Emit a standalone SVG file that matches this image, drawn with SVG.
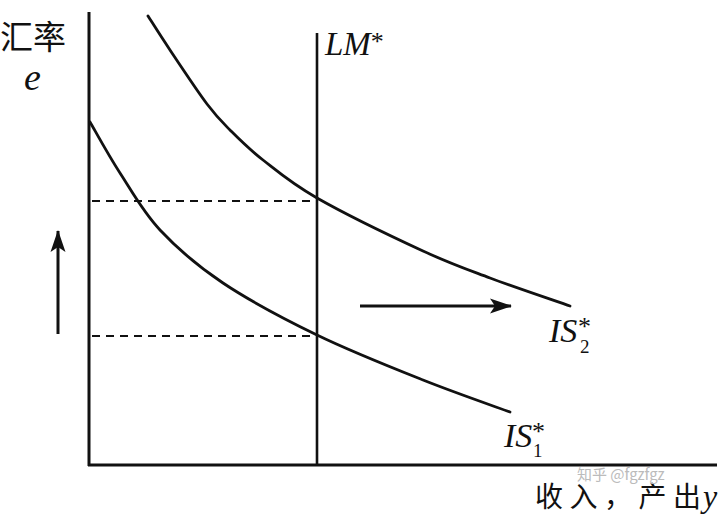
<svg xmlns="http://www.w3.org/2000/svg" width="726" height="519" viewBox="0 0 726 519">
<defs>
<marker id="ah" markerUnits="userSpaceOnUse" markerWidth="24" markerHeight="18" refX="21" refY="9" orient="auto">
<path d="M0,1.5 L22,9 L0,16.5 L5,9 z" fill="#111"/>
</marker>
<style>
.ax{stroke:#111;stroke-width:3;fill:none}
.cv{stroke:#111;stroke-width:2.8;fill:none;stroke-linecap:round}
.ds{stroke:#111;stroke-width:1.8;stroke-dasharray:8 6;fill:none}
.ar{stroke:#111;stroke-width:3;fill:none;marker-end:url(#ah)}
.lt{font-family:"Liberation Serif",serif;font-style:italic;fill:#111}
.up{font-style:normal}
.cj{font-family:"Noto Sans CJK SC",sans-serif;fill:#111}
.wm{font-family:"Noto Sans CJK SC","Liberation Sans",sans-serif;fill:#bbb}
</style>
</defs>
<rect width="726" height="519" fill="#fff"/>
<g id="connectors">
<line id="yaxis" class="ax" x1="89" y1="12" x2="89" y2="466"/>
<line id="xaxis" class="ax" x1="88" y1="465" x2="717" y2="465"/>
<line class="ds" x1="92" y1="201" x2="317" y2="201"/>
<line class="ds" x1="92" y1="336" x2="317" y2="336"/>
<line class="ar" x1="58" y1="334" x2="58" y2="231"/>
<line class="ar" x1="360" y1="306" x2="511" y2="306"/>
</g>
<g id="LM">
<line class="ax" x1="317" y1="33" x2="317" y2="465" style="stroke-width:2.6"/>
<text class="lt" x="325" y="55" font-size="33">LM<tspan class="up" font-size="26" dy="-5">*</tspan></text>
</g>
<g id="IS2">
<path class="cv" d="M148,16 C151.7,21.7 160.2,35.3 170,50 C179.8,64.7 197,90.7 207,104 C217,117.3 220.7,120.7 230,130 C239.3,139.3 248.5,148.7 263,160 C277.5,171.3 290.3,182.8 317,198 C343.7,213.2 394.2,237.7 423,251 C451.8,264.3 465.5,268.8 490,278 C514.5,287.2 556.7,301.3 570,306"/>
<text class="lt" x="549" y="342" font-size="34">IS<tspan class="up" x="578" dy="-7" font-size="26">*</tspan><tspan class="up" x="580" dy="18" font-size="19">2</tspan></text>
</g>
<g id="IS1">
<path class="cv" d="M90,122 C95,130.5 108.3,155 120,173 C131.7,191 142.8,211.7 160,230 C177.2,248.3 196.8,265.5 223,283 C249.2,300.5 283.7,318.8 317,335 C350.3,351.2 390.8,367.2 423,380 C455.2,392.8 495.5,406.7 510,412"/>
<text class="lt" x="504" y="447" font-size="34">IS<tspan class="up" x="532" dy="-7" font-size="26">*</tspan><tspan class="up" x="533" dy="17" font-size="19">1</tspan></text>
</g>
<g id="ylabel">
<text class="cj" x="0" y="49" font-size="33">汇率</text>
<text class="lt" x="24" y="90" font-size="38">e</text>
</g>
<g id="xlabel">
<text class="cj" x="535" y="507" font-size="28" textLength="166" lengthAdjust="spacing">收入，产出</text>
<text class="lt" x="703" y="507" font-size="32">y</text>
</g>
<g id="watermark">
<text class="wm" x="577" y="480" font-size="15">知乎 @fgzfgz</text>
</g>
</svg>
